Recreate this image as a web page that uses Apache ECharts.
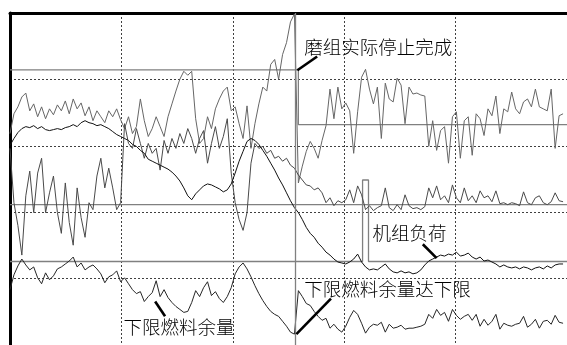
<!DOCTYPE html>
<html>
<head>
<meta charset="utf-8">
<script src="https://cdn.jsdelivr.net/npm/echarts@6/dist/echarts.min.js"></script>
<style>
  html, body { margin: 0; padding: 0; background: #fff; }
  #chart { width: 567px; height: 345px; }
</style>
</head>
<body>
<div id="chart"></div>
<script>
// One reading per sample step; values are trace heights on a common scale (0..336).
const millSignal = [
  214,234,241,251,255,237,244,231,241,229,
  239,233,243,237,247,234,249,239,245,232,
  241,227,237,231,225,237,231,239,228,219,
  231,214,221,249,227,211,219,231,221,211,
  231,244,257,269,277,273,277,229,204,209,
  231,219,239,249,257,261,237,241,224,209,
  242,199,224,244,261,257,284,289,269,294,
  306,327,335,164,181,196,206,199,189,207,
  222,259,229,261,239,245,237,194,236,271,
  279,259,244,261,209,265,249,246,270,263,
  224,261,254,255,253,252,201,227,197,217,
  221,184,231,236,189,227,231,192,234,229,
  212,239,232,252,214,239,236,256,239,234,
  246,249,241,259,241,239,237,259,199,232,
  234
];

const midSignal = [
  199,144,121,91,151,176,134,174,189,134,
  154,171,134,113,164,124,101,159,129,109,
  144,137,171,189,159,179,159,137,144,224,
  204,199,219,204,189,204,194,199,177,207,
  194,209,199,214,204,219,209,194,209,217,
  184,204,221,199,211,229,174,144,127,116,
  134,184,204,199,201,194,197,189,191,186,
  189,182,179,172,167,162,161,157,159,154,
  144,149,141,146,144,147,157,144,161,152,
  137,141,136,139,141,159,139,136,142,137,
  152,141,138,139,137,140,159,149,161,147,
  151,144,162,149,144,159,146,151,144,156,
  149,151,145,156,143,144,142,144,143,141,
  155,144,142,149,151,144,142,145,154,146,
  145
];

const unitLoad = [
  202,209,215,219,221,220,222,219,221,218,
  217,218,219,218,220,221,223,221,225,227,
  225,224,222,223,221,219,216,213,211,209,
  207,203,201,197,194,188,186,184,182,180,
  178,175,171,166,159,151,147,153,157,161,
  163,162,160,158,155,157,163,174,186,196,
  206,209,207,203,197,191,184,177,169,162,
  154,146,139,134,127,119,113,109,103,99,
  94,91,87,84,83,82,84,87,92,84,
  79,76,77,76,79,82,77,74,73,75,
  73,74,72,73,76,81,85,87,89,91,
  90,92,91,94,90,91,93,89,87,89,
  85,86,84,82,79,81,79,78,79,77,
  79,78,76,78,79,77,80,78,81,82,
  82
];

const fuelMargin = [
  56,71,80,87,81,76,79,68,62,73,
  66,70,77,79,82,85,89,79,83,76,
  79,81,77,72,63,69,71,75,64,68,
  62,56,52,54,44,49,53,65,49,56,
  48,43,39,36,33,34,43,55,49,58,
  64,50,54,47,43,49,58,72,79,83,
  77,69,60,52,45,39,34,31,29,24,
  19,13,11,55,49,42,40,34,29,25,
  27,17,21,16,13,19,28,35,31,22,
  12,18,21,20,23,13,21,17,18,20,
  16,17,17,18,19,21,31,27,36,30,
  33,24,36,30,26,29,31,25,31,19,
  26,20,24,31,16,22,20,19,21,22,
  29,18,21,26,17,24,25,21,30,23,
  22
];

// Mill running state (high = running), drops when the stop completes.
const millStateTimes = [0, 73, 141];
const millStateLevels = [278.5, 223, 223];
// Command pulse trace.
const pulseTimes = [0, 89.25, 90.75, 141];
const pulseLevels = [84.5, 167, 84.5, 84.5];
// Constant reference trace.
const refTimes = [0, 141];
const refLevels = [142, 142];
// Moment the stop completes.
const stopTime = 72.25;

const callouts = [
  { text: '磨组实际停止完成', from: [72.75, 278], to: [77.75, 292], at: [74.5, 302] },
  { text: '机组负荷', from: [108, 88], to: [104.5, 102], at: [91.75, 113] },
  { text: '下限燃料余量达下限', from: [72.5, 11], to: [81.25, 47], at: [74.5, 57] },
  { text: '下限燃料余量', from: [36.75, 44], to: [39.25, 29], at: [28.75, 18] }
];

const byIndex = arr => arr.map((v, i) => [i, v]);
const pairs = (t, v) => t.map((x, k) => [x, v[k]]);

const chart = echarts.init(document.getElementById('chart'));

const dotted = { color: '#404040', width: 1, type: [2, 2] };
const refStyle = { color: '#808080', width: 1.3 };

const option = {
  animation: false,
  backgroundColor: '#fff',
  grid: { left: 10, top: 13, width: 564, height: 336 },
  xAxis: {
    type: 'value', min: 0, max: 141, interval: 28.2, position: 'top',
    axisLine: { show: true, onZero: false, lineStyle: { color: '#000', width: 3 } },
    axisTick: { show: false }, axisLabel: { show: false },
    splitLine: { show: true, lineStyle: dotted }
  },
  yAxis: {
    type: 'value', min: 0, max: 336, interval: 67.2,
    axisLine: { show: true, onZero: false, lineStyle: { color: '#000', width: 3 } },
    axisTick: { show: false }, axisLabel: { show: false },
    splitLine: { show: true, lineStyle: dotted }
  },
  series: [
    {
      type: 'line', name: 'millState', data: pairs(millStateTimes, millStateLevels),
      step: 'end', symbol: 'none', lineStyle: refStyle, z: 2,
      markLine: {
        silent: true, symbol: ['none', 'none'], label: { show: false },
        lineStyle: { color: '#808080', width: 1.3, type: 'solid' },
        data: [{ xAxis: stopTime }]
      }
    },
    {
      type: 'line', name: 'pulse', data: pairs(pulseTimes, pulseLevels),
      step: 'end', symbol: 'none', lineStyle: refStyle, z: 2
    },
    {
      type: 'line', name: 'reference', data: pairs(refTimes, refLevels),
      symbol: 'none', lineStyle: refStyle, z: 2
    },
    {
      type: 'line', name: 'millSignal', data: byIndex(millSignal),
      symbol: 'none', lineStyle: { color: '#666', width: 1 }, z: 3
    },
    {
      type: 'line', name: 'midSignal', data: byIndex(midSignal),
      symbol: 'none', lineStyle: { color: '#4a4a4a', width: 1 }, z: 3
    },
    {
      type: 'line', name: 'fuelMargin', data: byIndex(fuelMargin),
      symbol: 'none', lineStyle: { color: '#262626', width: 1 }, z: 4
    },
    {
      type: 'line', name: 'unitLoad', data: byIndex(unitLoad),
      symbol: 'none', lineStyle: { color: '#111', width: 1 }, z: 4,
      markLine: {
        silent: true, symbol: ['none', 'none'], label: { show: false },
        lineStyle: { color: '#000', width: 2.6, type: 'solid' },
        data: callouts.map(c => [{ coord: c.from }, { coord: c.to }])
      }
    }
  ]
};

chart.setOption(option);

chart.setOption({
  graphic: callouts.map(c => {
    const p = chart.convertToPixel({ gridIndex: 0 }, c.at);
    return {
      type: 'text', x: p[0], y: p[1], z: 10,
      style: {
        text: c.text, fill: '#000', align: 'left', verticalAlign: 'middle',
        fontSize: 18.5, fontWeight: 300,
        fontFamily: '"Noto Sans CJK SC", sans-serif'
      }
    };
  })
});
</script>
</body>
</html>
